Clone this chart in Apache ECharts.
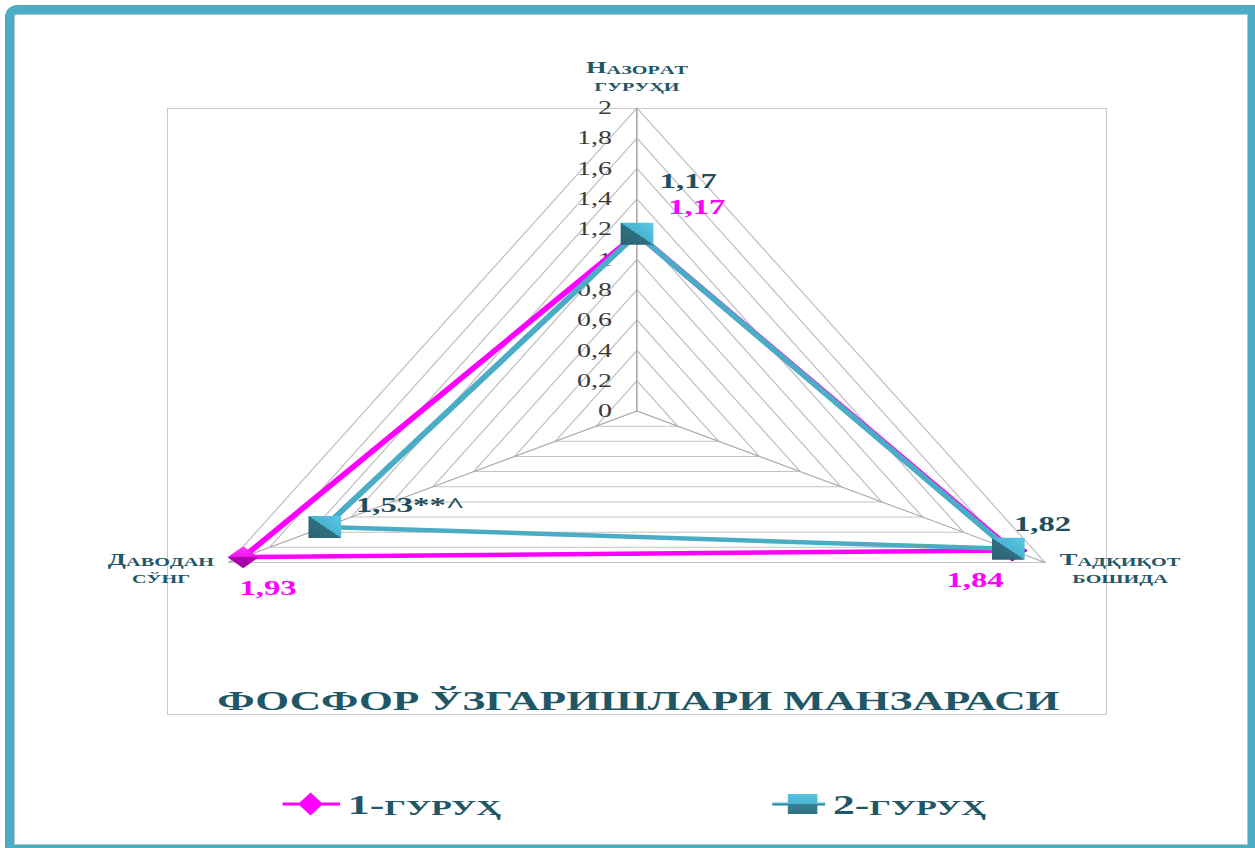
<!DOCTYPE html>
<html>
<head>
<meta charset="utf-8">
<script src="https://cdn.jsdelivr.net/npm/echarts@6/dist/echarts.min.js"></script>
<style>
html,body{margin:0;padding:0;background:#fff;width:1255px;height:848px;overflow:hidden;}
#plotbox{position:absolute;left:167px;top:108px;width:940px;height:607px;border:1px solid #c9c9c9;box-sizing:border-box;}
#chart{position:absolute;left:0;top:0;width:807px;height:848px;transform:scaleX(1.5551);transform-origin:0 0;}
#frame{position:absolute;left:5px;top:5px;width:1252px;height:849px;border:9px solid #4bacc6;border-top-left-radius:12px;box-sizing:border-box;box-shadow:inset 0 0 0 1px #b3c3c8;pointer-events:none;}
</style>
</head>
<body>
<div id="plotbox"></div>
<div id="chart"></div>
<div id="frame"></div>
<script>
// ---- data ----
const indicatorNames = ['Назорат гуруҳи', 'Даводан сўнг', 'Тадқиқот бошида'];
const axisMin = 0;
const axisMax = 2;
const tickLabels = ['0', '0,2', '0,4', '0,6', '0,8', '1', '1,2', '1,4', '1,6', '1,8', '2'];
const seriesNames = ['1-ГУРУҲ', '2-ГУРУҲ'];
const group1 = [1.17, 1.93, 1.84];
const group2 = [1.17, 1.53, 1.82];
const labelSuffix1 = ['', '', ''];
const labelSuffix2 = ['', '**^', ''];
const chartTitle = 'ФОСФОР ЎЗГАРИШЛАРИ МАНЗАРАСИ';

// ---- styles / layout ----
const SERIF = 'Liberation Serif';
const DARK = '#1f5766';
const offsets1 = [[38.5, -27], [16, 31], [-24, 30]];
const offsets2 = [[33, -53], [55, -22], [22, -25]];
const nameGaps = [15, 11, 11];

function fmtNum(v) { return String(v).replace('.', ','); }

function smallCaps(name) {
  return name.split(' ').map(function (w) {
    return w.split('').map(function (ch) {
      const up = ch.toUpperCase();
      return ch === up ? '{b|' + ch + '}' : '{s|' + up + '}';
    }).join('');
  }).join('\n');
}

function makeRich(color, offs) {
  const rich = {};
  offs.forEach(function (o, i) {
    const dx = o[0], dy = o[1];
    rich['d' + i] = {
      fontSize: 21, fontWeight: 'bold', fontFamily: SERIF, color: color,
      padding: [dy > 0 ? 2 * dy : 0, dx < 0 ? -2 * dx : 0, dy < 0 ? -2 * dy : 0, dx > 0 ? 2 * dx : 0]
    };
  });
  return rich;
}

function makeFmt(vals, suffix) {
  return function (p) {
    let v = p.value;
    let i = vals.indexOf(v);
    if (i < 0) i = 0;
    return '{d' + i + '|' + fmtNum(vals[i]) + suffix[i] + '}';
  };
}

const diamondGrad = new echarts.graphic.LinearGradient(0, 0, 0, 1, [
  { offset: 0, color: '#ff3cff' }, { offset: 0.5, color: '#f010f0' },
  { offset: 0.5, color: '#b000b0' }, { offset: 1, color: '#a000a0' }
]);
const squareGrad = new echarts.graphic.LinearGradient(1, 0, 0, 1, [
  { offset: 0, color: '#5cc8e6' }, { offset: 0.5, color: '#48b4d2' },
  { offset: 0.5, color: '#2f6f80' }, { offset: 1, color: '#2a6272' }
]);
const legendSquareGrad = new echarts.graphic.LinearGradient(0, 0, 0, 1, [
  { offset: 0, color: '#5cc8e6' }, { offset: 0.5, color: '#48b4d2' },
  { offset: 0.5, color: '#3a8196' }, { offset: 1, color: '#2f6f80' }
]);

const diamondIcon = 'path://M0,10 L37,10 L37,13 L0,13 Z M10,11.5 L18,0 L26,11.5 L18,23 Z';
const squareIcon = 'path://M0,10 L34,10 L34,13 L0,13 Z M10,1.5 L29,1.5 L29,21.5 L10,21.5 Z M0,0 L0,0 L0,23 L0,23 Z';

const nameRich = {
  b: { fontSize: 17, fontWeight: 'bold', fontFamily: SERIF, color: DARK, lineHeight: 17, verticalAlign: 'bottom', align: 'center' },
  s: { fontSize: 13, fontWeight: 'bold', fontFamily: SERIF, color: DARK, lineHeight: 17, verticalAlign: 'bottom', align: 'center' }
};

const legendRich = {
  d: { fontSize: 28, fontWeight: 'bold', fontFamily: SERIF, color: DARK, lineHeight: 28, verticalAlign: 'bottom' },
  s: { fontSize: 22, fontWeight: 'bold', fontFamily: SERIF, color: DARK, lineHeight: 28, verticalAlign: 'bottom' }
};
function legendFmt(name) { return '{d|' + name.slice(0, 2) + '}{s|' + name.slice(2) + '}'; }

const indicators = indicatorNames.map(function (n, i) {
  const o = { name: n, min: axisMin, max: axisMax, nameGap: nameGaps[i] };
  if (i === 0) {
    o.axisLabel = {
      show: true, fontSize: 18, fontFamily: SERIF, color: '#3a3a3a', margin: 16,
      formatter: function (v) {
        const k = Math.round((v - axisMin) / ((axisMax - axisMin) / (tickLabels.length - 1)));
        return tickLabels[k] != null ? tickLabels[k] : fmtNum(v);
      }
    };
  }
  return o;
});

const chart = echarts.init(document.getElementById('chart'), null, { renderer: 'svg' });
chart.setOption({
  animation: false,
  title: {
    text: chartTitle, left: 405.5, top: 681, textAlign: 'center',
    textStyle: { fontSize: 28, fontWeight: 'bold', fontFamily: SERIF, color: DARK }
  },
  legend: [
    {
      data: [{ name: seriesNames[0], icon: diamondIcon, itemStyle: { color: '#ff00ff', borderWidth: 0 } }],
      left: 176.7, top: 785, itemWidth: 37, itemHeight: 23, selectedMode: false,
      formatter: legendFmt, textStyle: { rich: legendRich }
    },
    {
      data: [{ name: seriesNames[1], icon: squareIcon, itemStyle: { color: legendSquareGrad, borderWidth: 0 } }],
      left: 491.6, top: 785, itemWidth: 34, itemHeight: 23, selectedMode: false,
      formatter: legendFmt, textStyle: { rich: legendRich }
    }
  ],
  radar: {
    center: [409.6, 411],
    radius: 303,
    startAngle: 90,
    shape: 'polygon',
    splitNumber: 10,
    indicator: indicators,
    axisName: {
      formatter: function (v) { return smallCaps(v); },
      rich: nameRich
    },
    axisLine: { lineStyle: { color: '#a8a8a8', width: 1 } },
    splitLine: { lineStyle: { color: '#c4c4c4', width: 1 } },
    splitArea: { show: false },
    axisTick: { show: false },
    axisLabel: { show: false }
  },
  series: [
    {
      type: 'radar', z: 2,
      symbol: 'diamond', symbolSize: [20, 22],
      lineStyle: { color: '#ff00ff', width: 4.5 },
      itemStyle: { color: diamondGrad, borderWidth: 0 },
      label: { show: true, position: 'inside', formatter: makeFmt(group1, labelSuffix1), rich: makeRich('#ff00ff', offsets1) },
      data: [{ name: seriesNames[0], value: group1 }]
    },
    {
      type: 'radar', z: 3,
      symbol: 'rect', symbolSize: [21, 22],
      lineStyle: { color: '#4bacc6', width: 4.5 },
      itemStyle: { color: squareGrad, borderWidth: 0 },
      label: { show: true, position: 'inside', formatter: makeFmt(group2, labelSuffix2), rich: makeRich('#1f4f5e', offsets2) },
      data: [{ name: seriesNames[1], value: group2 }]
    }
  ]
});
</script>
</body>
</html>
